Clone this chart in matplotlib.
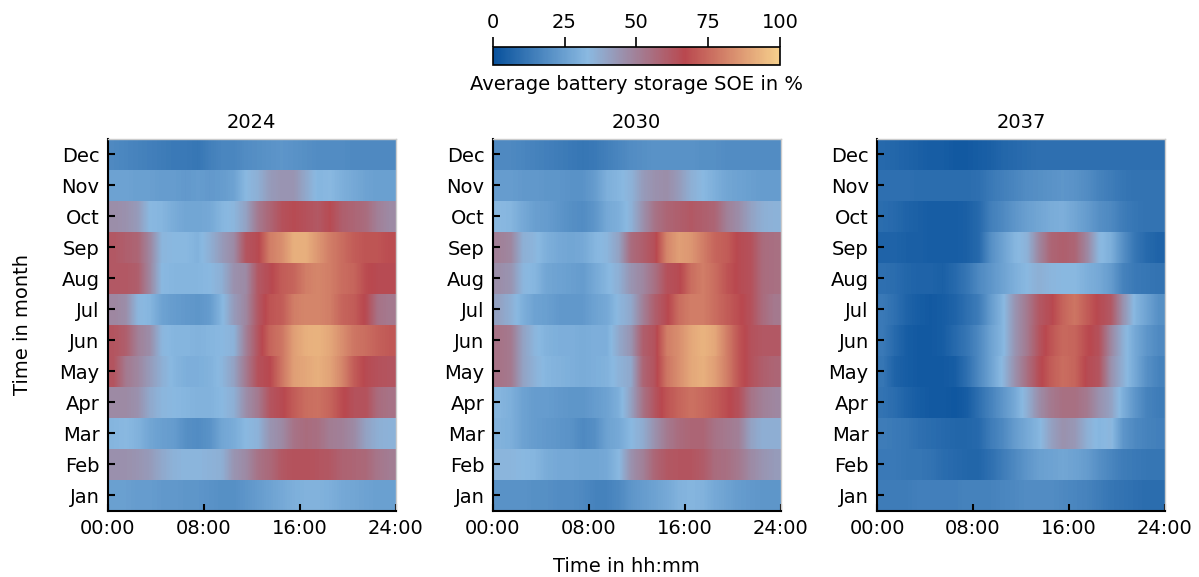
import numpy as np
import matplotlib
matplotlib.use("Agg")
import matplotlib.pyplot as plt
from matplotlib.colors import LinearSegmentedColormap

months = ["Jan", "Feb", "Mar", "Apr", "May", "Jun",
          "Jul", "Aug", "Sep", "Oct", "Nov", "Dec"]
hour_ticks = [0, 8, 16, 24]
hour_labels = ["00:00", "08:00", "16:00", "24:00"]
years = ["2024", "2030", "2037"]

# Average state of energy (%) per month (rows Jan..Dec) and hour of day (0..23)
soe_2024 = [
    [25, 25, 24, 24, 23, 23, 22, 22, 21, 20, 20, 22, 24, 26, 28, 30, 31, 31, 30, 28, 27, 26, 25, 25],  # Jan
    [45, 45, 44, 42, 38, 35, 34, 34, 35, 36, 44, 47, 54, 57, 62, 64, 64, 63, 62, 59, 58, 57, 53, 51],  # Feb
    [32, 33, 31, 27, 25, 24, 20, 19, 21, 27, 29, 33, 35, 44, 47, 54, 56, 55, 51, 50, 47, 40, 36, 35],  # Mar
    [47, 47, 45, 38, 34, 33, 32, 31, 31, 33, 36, 46, 52, 63, 66, 72, 76, 77, 74, 68, 64, 64, 56, 54],  # Apr
    [63, 52, 48, 42, 36, 32, 30, 30, 31, 34, 40, 52, 64, 67, 78, 88, 90, 92, 89, 82, 72, 66, 64, 63],  # May
    [63, 60, 50, 46, 34, 32, 32, 31, 32, 33, 35, 50, 63, 74, 78, 88, 92, 93, 90, 84, 78, 76, 73, 71],  # Jun
    [48, 46, 34, 32, 26, 24, 23, 22, 24, 32, 42, 48, 62, 70, 72, 80, 82, 82, 80, 74, 72, 66, 54, 52],  # Jul
    [62, 62, 60, 48, 33, 32, 32, 32, 33, 36, 45, 47, 62, 66, 72, 74, 80, 82, 80, 76, 74, 68, 66, 66],  # Aug
    [62, 60, 58, 48, 34, 33, 33, 31, 36, 42, 47, 63, 66, 80, 84, 92, 92, 86, 80, 76, 72, 70, 70, 68],  # Sep
    [46, 45, 42, 33, 32, 29, 27, 27, 28, 32, 34, 40, 52, 58, 64, 66, 64, 62, 66, 60, 58, 56, 50, 47],  # Oct
    [26, 26, 25, 25, 24, 24, 23, 24, 23, 24, 26, 33, 36, 42, 44, 44, 38, 32, 33, 30, 28, 26, 25, 25],  # Nov
    [18, 17, 16, 15, 14, 13, 13, 12, 15, 17, 17, 19, 20, 21, 22, 21, 20, 19, 19, 19, 18, 18, 18, 18],  # Dec
]

soe_2030 = [
    [21, 21, 21, 20, 20, 19, 19, 18, 16, 16, 18, 22, 24, 26, 28, 31, 32, 31, 28, 26, 24, 23, 22, 22],  # Jan
    [34, 34, 33, 32, 29, 28, 28, 27, 27, 28, 33, 45, 50, 58, 62, 63, 63, 61, 56, 55, 52, 47, 44, 42],  # Feb
    [31, 30, 26, 24, 23, 22, 21, 18, 20, 26, 28, 33, 37, 45, 52, 56, 58, 58, 54, 52, 50, 40, 36, 36],  # Mar
    [32, 30, 26, 24, 24, 23, 22, 22, 24, 26, 30, 40, 54, 63, 70, 74, 77, 75, 72, 68, 64, 54, 50, 48],  # Apr
    [54, 52, 40, 35, 32, 31, 30, 29, 30, 31, 35, 38, 58, 64, 78, 84, 90, 92, 88, 80, 70, 64, 60, 58],  # May
    [54, 52, 40, 34, 31, 30, 30, 29, 30, 30, 38, 44, 60, 64, 80, 84, 90, 93, 90, 80, 70, 64, 62, 62],  # Jun
    [40, 36, 30, 26, 25, 23, 23, 23, 26, 28, 34, 38, 50, 60, 66, 76, 80, 80, 76, 72, 68, 64, 56, 52],  # Jul
    [46, 44, 34, 32, 27, 26, 25, 24, 28, 32, 36, 44, 48, 55, 64, 66, 76, 80, 76, 70, 66, 64, 56, 55],  # Aug
    [50, 48, 36, 34, 30, 28, 27, 28, 32, 34, 40, 56, 60, 65, 82, 88, 86, 80, 74, 72, 66, 64, 56, 55],  # Sep
    [33, 32, 28, 25, 24, 22, 20, 19, 22, 28, 30, 35, 45, 54, 58, 60, 62, 60, 58, 50, 46, 40, 36, 35],  # Oct
    [24, 24, 23, 23, 22, 22, 21, 21, 24, 30, 32, 35, 42, 45, 46, 42, 36, 33, 30, 27, 26, 25, 24, 24],  # Nov
    [18, 18, 17, 16, 15, 14, 13, 12, 13, 15, 17, 19, 20, 21, 21, 21, 21, 20, 20, 19, 19, 19, 19, 19],  # Dec
]

soe_2037 = [
    [14, 14, 14, 15, 15, 15, 15, 16, 16, 16, 17, 18, 19, 19, 19, 18, 17, 16, 14, 12, 11, 10, 9, 9],  # Jan
    [13, 13, 12, 12, 11, 9, 8, 7, 7, 10, 14, 18, 22, 25, 26, 27, 26, 24, 20, 17, 14, 13, 12, 12],  # Feb
    [14, 13, 12, 10, 9, 8, 7, 7, 8, 14, 18, 24, 28, 32, 40, 45, 43, 36, 32, 34, 22, 18, 16, 15],  # Mar
    [11, 9, 6, 4, 3, 3, 2, 4, 10, 16, 22, 28, 36, 46, 52, 55, 55, 52, 45, 40, 30, 22, 16, 14],  # Apr
    [12, 6, 4, 3, 3, 3, 4, 10, 18, 26, 34, 45, 55, 65, 72, 76, 74, 66, 63, 45, 36, 28, 20, 16],  # May
    [13, 8, 4, 3, 3, 4, 8, 12, 18, 26, 32, 44, 52, 63, 70, 75, 74, 68, 64, 48, 36, 28, 22, 18],  # Jun
    [13, 10, 6, 4, 3, 4, 6, 10, 14, 24, 32, 44, 52, 62, 66, 74, 78, 72, 66, 62, 45, 32, 26, 20],  # Jul
    [10, 9, 7, 6, 6, 5, 8, 12, 18, 22, 26, 30, 33, 36, 34, 33, 33, 30, 28, 24, 16, 13, 12, 11],  # Aug
    [6, 6, 5, 5, 4, 4, 4, 5, 8, 20, 26, 32, 35, 48, 58, 60, 58, 48, 34, 30, 20, 12, 8, 6],  # Sep
    [9, 8, 6, 5, 4, 4, 4, 5, 8, 15, 18, 22, 25, 27, 29, 30, 27, 24, 20, 18, 14, 12, 11, 11],  # Oct
    [10, 10, 10, 9, 9, 9, 9, 9, 10, 13, 15, 17, 19, 20, 21, 22, 21, 19, 16, 14, 12, 11, 11, 11],  # Nov
    [8, 7, 6, 5, 4, 4, 3, 3, 4, 5, 7, 8, 9, 10, 10, 10, 10, 10, 10, 10, 10, 10, 10, 10],  # Dec
]

soe_by_year = [soe_2024, soe_2030, soe_2037]

cmap = LinearSegmentedColormap.from_list(
    "soe",
    [(0.0, "#08519c"), (0.33, "#8ab9e1"), (0.67, "#b9484f"), (1.0, "#f6d08c")],
)

plt.rcParams["font.family"] = "DejaVu Sans"
plt.rcParams["font.size"] = 14

fig = plt.figure(figsize=(11.99, 5.77), dpi=100)

lefts = [0.090, 0.411, 0.7315]
bottom, width, height = 0.1144, 0.240, 0.645

last_im = None
for k, (year, soe) in enumerate(zip(years, soe_by_year)):
    ax = fig.add_axes([lefts[k], bottom, width, height])
    arr = np.asarray(soe, dtype=float)
    # one image strip per month so the hourly values blend only along the day
    for i in range(len(months)):
        last_im = ax.imshow(arr[i:i + 1, :], cmap=cmap, vmin=0, vmax=100,
                            extent=[0, 24, i - 0.5, i + 0.5], origin="lower",
                            aspect="auto", interpolation="bilinear")
    ax.set_xlim(0, 24)
    ax.set_ylim(-0.5, len(months) - 0.5)
    ax.set_yticks(range(len(months)))
    ax.set_yticklabels(months)
    ax.set_xticks(hour_ticks)
    ax.set_xticklabels(hour_labels)
    ax.tick_params(direction="in", length=5, width=1.5, labelsize=14, pad=6)
    for side in ("left", "bottom"):
        ax.spines[side].set_color("black")
        ax.spines[side].set_linewidth(1.5)
    for side in ("top", "right"):
        ax.spines[side].set_color("#cccccc")
        ax.spines[side].set_linewidth(1.0)
    ax.set_title(year, fontsize=14, pad=8)
    if k == 0:
        ax.set_ylabel("Time in month", fontsize=14, labelpad=20)

fig.text(0.522, 0.019, "Time in hh:mm", ha="center", va="center", fontsize=14)

cax = fig.add_axes([0.411, 0.887, 0.2394, 0.0312])
cb = fig.colorbar(last_im, cax=cax, orientation="horizontal", ticks=[0, 25, 50, 75, 100])
cax.xaxis.set_ticks_position("top")
cax.xaxis.set_label_position("bottom")
cb.set_label("Average battery storage SOE in %", fontsize=14, labelpad=7)
cax.tick_params(direction="out", length=7, width=1.2, labelsize=14, pad=4)
cb.outline.set_linewidth(1.2)

fig.savefig("out.png", dpi=100)
